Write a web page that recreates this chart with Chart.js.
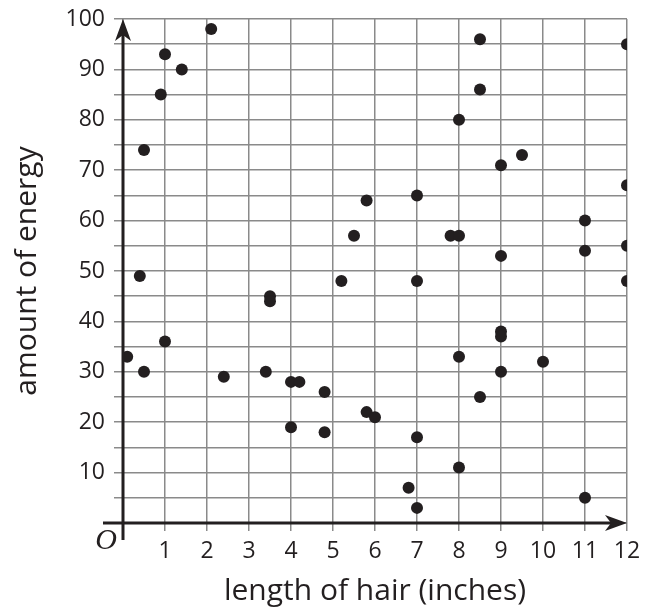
<!DOCTYPE html>
<html>
<head>
<meta charset="utf-8">
<script src="https://cdn.jsdelivr.net/npm/chart.js@4/dist/chart.umd.min.js"></script>
<style>
  html, body { margin: 0; padding: 0; background: #ffffff; }
  #wrap { width: 645px; height: 616px; }
</style>
</head>
<body>
<div id="wrap"><canvas id="c" width="645" height="616"></canvas></div>
<script>
// Data
const hairLength = [0.1, 0.4, 0.5, 0.5, 0.9, 1, 1.4, 2.1, 1, 2.4,
  3.4, 3.5, 3.5, 4, 4.2, 4, 4.8, 4.8, 5.2, 5.5,
  5.8, 5.8, 6, 6.8, 7, 7, 7, 7, 7.8, 8,
  8, 8, 8, 8.5, 8.5, 8.5, 9, 9.5, 9, 9,
  9, 9, 10, 11, 11, 11, 12, 12, 12, 12];
const energy = [33, 49, 30, 74, 85, 93, 90, 98, 36, 29,
  30, 45, 44, 28, 28, 19, 26, 18, 48, 57,
  64, 22, 21, 7, 3, 17, 48, 65, 57, 57,
  80, 33, 11, 96, 86, 25, 71, 73, 53, 38,
  37, 30, 32, 60, 54, 5, 95, 67, 55, 48];
const xTickLabels = ['1','2','3','4','5','6','7','8','9','10','11','12'];
const yTickLabels = ['10','20','30','40','50','60','70','80','90','100'];
const xTitle = 'length of hair (inches)';
const yTitle = 'amount of energy';

const points = hairLength.map((x, i) => ({ x: x, y: energy[i] }));
const INK = '#231f20';
const GRID = '#8a8a8a';
const FONT = "'Open Sans', 'DejaVu Sans', sans-serif";

const axesPlugin = {
  id: 'axesArrows',
  afterDatasetsDraw(chart) {
    const ctx = chart.ctx;
    const xs = chart.scales.x, ys = chart.scales.y;
    const x0 = xs.getPixelForValue(0), y0 = ys.getPixelForValue(0);
    const xEnd = xs.getPixelForValue(12), yEnd = ys.getPixelForValue(100);
    ctx.save();
    ctx.strokeStyle = INK; ctx.fillStyle = INK; ctx.lineWidth = 3;
    // x axis
    ctx.beginPath(); ctx.moveTo(x0 - 20, y0); ctx.lineTo(xEnd - 10, y0); ctx.stroke();
    ctx.beginPath();
    ctx.moveTo(xEnd, y0); ctx.lineTo(xEnd - 22, y0 - 8); ctx.lineTo(xEnd - 16, y0);
    ctx.lineTo(xEnd - 22, y0 + 8); ctx.closePath(); ctx.fill();
    // y axis
    ctx.beginPath(); ctx.moveTo(x0, y0 + 17); ctx.lineTo(x0, yEnd + 10); ctx.stroke();
    ctx.beginPath();
    ctx.moveTo(x0, yEnd); ctx.lineTo(x0 - 8, yEnd + 22); ctx.lineTo(x0, yEnd + 16);
    ctx.lineTo(x0 + 8, yEnd + 22); ctx.closePath(); ctx.fill();
    // origin label
    ctx.font = "italic 30px 'Liberation Serif', 'DejaVu Serif', serif";
    ctx.textAlign = 'center'; ctx.textBaseline = 'middle';
    ctx.fillText('O', x0 - 17, y0 + 18);
    ctx.restore();
  }
};

new Chart(document.getElementById('c'), {
  type: 'scatter',
  data: {
    datasets: [{
      data: points,
      backgroundColor: INK,
      borderWidth: 0,
      pointRadius: 6,
      pointHoverRadius: 6
    }]
  },
  options: {
    responsive: false,
    animation: false,
    devicePixelRatio: 1,
    layout: { padding: { left: 0, top: 19, right: 18, bottom: 0 } },
    plugins: { legend: { display: false }, tooltip: { enabled: false } },
    scales: {
      x: {
        type: 'linear', min: 0, max: 12,
        afterFit(s) { s.height = 93; s.paddingLeft = 0; s.paddingRight = 0; },
        border: { display: false },
        grid: { color: GRID, lineWidth: 1.5, drawTicks: true, tickLength: 8, tickColor: GRID },
        ticks: {
          stepSize: 1, padding: 7, color: INK, maxRotation: 0, autoSkip: false,
          font: { family: FONT, size: 23 },
          callback: (v) => (v >= 1 ? xTickLabels[v - 1] : '')
        },
        title: { display: true, text: xTitle, color: INK, font: { family: FONT, size: 30 }, padding: { top: 0, bottom: 7 } }
      },
      y: {
        type: 'linear', min: 0, max: 100,
        afterFit(s) { s.width = 123; s.paddingTop = 0; s.paddingBottom = 0; },
        border: { display: false },
        grid: { color: GRID, lineWidth: 1.5, drawTicks: true, tickLength: 9, tickColor: GRID },
        ticks: {
          stepSize: 5, padding: 9, color: INK, autoSkip: false,
          font: { family: FONT, size: 23 },
          callback: (v) => (v > 0 && v % 10 === 0 ? yTickLabels[v / 10 - 1] : '')
        },
        title: { display: true, text: yTitle, color: INK, font: { family: FONT, size: 30 }, padding: { top: 9, bottom: 0 } }
      }
    }
  },
  plugins: [axesPlugin]
});
</script>
</body>
</html>
